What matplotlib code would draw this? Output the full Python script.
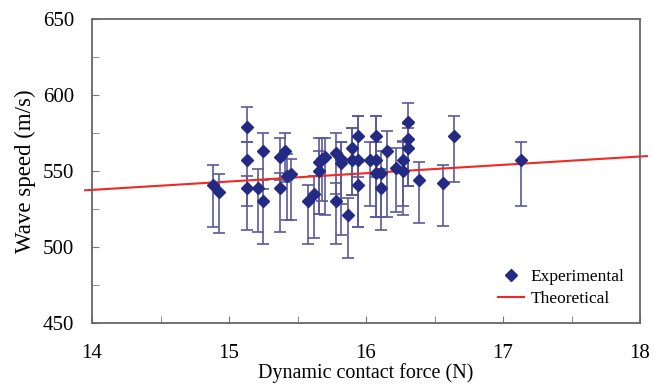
import matplotlib.pyplot as plt

plt.rcParams['font.family'] = ['Liberation Serif', 'DejaVu Serif']

# experimental points: force (N), wave speed (m/s), error below, error above
force = [14.88, 14.93, 15.13, 15.13, 15.13, 15.21, 15.25, 15.25, 15.37, 15.41,
         15.37, 15.42, 15.45, 15.58, 15.62, 15.66, 15.66, 15.68, 15.70, 15.78,
         15.78, 15.82, 15.82, 15.87, 15.90, 15.90, 15.94, 15.94, 15.94, 16.03,
         16.07, 16.07, 16.07, 16.11, 16.11, 16.15, 16.22, 16.27, 16.27, 16.31,
         16.31, 16.31, 16.39, 16.56, 16.64, 17.13]
speed = [541, 536, 579, 557, 539, 539, 563, 530, 559, 563,
         539, 547, 548, 530, 535, 550, 556, 558, 559, 562,
         530, 558, 555, 521, 565, 557, 573, 557, 541, 557,
         573, 557, 549, 549, 539, 563, 552, 557, 550, 582,
         571, 565, 544, 542, 573, 557]
err_lo = [28, 27, 10, 30, 28, 29, 25, 28, 15, 20,
          29, 29, 30, 28, 29, 28, 34, 28, 38, 27,
          28, 30, 47, 28, 31, 23, 27, 44, 28, 30,
          27, 37, 29, 29, 28, 43, 29, 30, 29, 42,
          31, 25, 28, 28, 30, 30]
err_hi = [13, 12, 13, 12, 8, 12, 12, 14, 13, 12,
          10, 14, 10, 11, 12, 13, 16, 14, 13, 13,
          12, 11, 14, 11, 13, 21, 13, 29, 15, 12,
          13, 29, 20, 14, 12, 13, 13, 12, 20, 13,
          10, 13, 12, 12, 13, 12]

# theoretical line
theory_force = [13.95, 18.05]
theory_speed = [537.3, 559.8]

fig = plt.figure(figsize=(6.54, 3.89), dpi=100)
ax = fig.add_axes([0.1407, 0.1697, 0.8379, 0.7815])

ax.errorbar(force, speed, yerr=[err_lo, err_hi], fmt='none', ecolor='#5a5a9c',
            elinewidth=1.2, capsize=4, capthick=1.2, zorder=2)
ax.plot(force, speed, 'D', color='#232a84', markersize=6.5, zorder=3,
        label='Experimental')
ax.plot(theory_force, theory_speed, color='#ee2a22', lw=1.5, zorder=2.5,
        clip_on=False, label='Theoretical')

ax.set_xlim(14, 18)
ax.set_ylim(450, 650)
ax.set_xticks([14, 15, 16, 17, 18])
ax.set_xticks([14.5, 15.5, 16.5, 17.5], minor=True)
ax.set_yticks([450, 500, 550, 600, 650])
ax.set_yticks([475, 525, 575, 625], minor=True)
ax.tick_params(which='both', direction='in', colors='#777777',
               labelcolor='black', labelsize=15, length=5)
ax.tick_params(axis='x', pad=15)
ax.tick_params(axis='y', pad=13)
for s in ax.spines.values():
    s.set_color('#666666')
    s.set_linewidth(1.3)

ax.set_xlabel('Dynamic contact force (N)', fontsize=14.5, labelpad=0)
ax.set_ylabel('Wave speed (m/s)', fontsize=16.5, labelpad=5)

leg = ax.legend(loc='lower right', frameon=False, fontsize=12.5,
                handlelength=1.5, handletextpad=0.4, borderaxespad=0.5,
                labelspacing=0.35)

fig.savefig('out.png', dpi=100)
